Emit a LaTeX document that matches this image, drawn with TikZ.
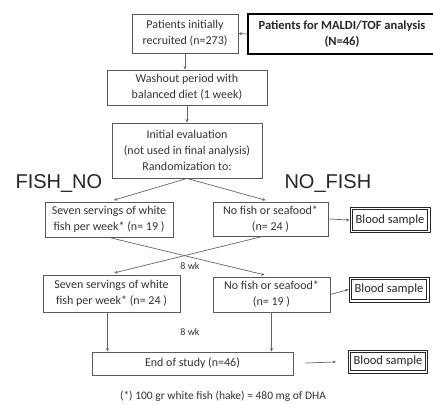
\documentclass[tikz,border=0pt]{standalone}
\usepackage{fontspec}
\setmainfont{Carlito}
\newfontfamily\headfont{Liberation Sans}
\usetikzlibrary{arrows.meta}
\begin{document}
\begin{tikzpicture}[x=1pt,y=-1pt,
  box/.style={draw=black!65,line width=0.9pt,align=center,inner sep=0pt,font=\fontsize{12}{16}\selectfont,text=black!80},
  bbox/.style={draw=black!85,line width=0.8pt,align=center,inner sep=0pt,font=\fontsize{12.5}{15}\selectfont,text=black!85,
    path picture={\draw[black!85,line width=0.8pt] ([shift={(2.2pt,2.2pt)}]path picture bounding box.south west) rectangle ([shift={(-2.2pt,-2.2pt)}]path picture bounding box.north east);}},
  mbox/.style={draw=black,line width=1.2pt,align=center,inner sep=0pt,font=\bfseries\fontsize{12.5}{16}\selectfont,text=black!85},
  arr/.style={draw=black!60,line width=0.7pt,-{Stealth[length=3.5pt,width=3pt]}},
  lbl/.style={font=\fontsize{10}{12}\selectfont,text=black!80},
  head/.style={font=\headfont\fontsize{20}{22}\selectfont,text=black!85}]
\useasboundingbox (0,0) rectangle (433,404);
\node[box,minimum width=106pt,minimum height=39pt] (rec) at (185,33.5) {Patients initially\\recruited (n=273)};
\node[mbox,minimum width=188pt,minimum height=40pt] (mal) at (342,34) {Patients for MALDI/TOF analysis\\(N=46)};
\node[box,minimum width=160pt,minimum height=35pt] (wash) at (187,87.5) {Washout period with\\balanced diet (1 week)};
\node[box,minimum width=150pt,minimum height=55pt] (init) at (187,150.5) {Initial evaluation\\(not used in final analysis)\\Randomization to:};
\node[head,anchor=west] (fn) at (12,184) {FISH\_NO};
\node[head,anchor=west] (nf) at (281,184) {NO\_FISH};
\node[box,minimum width=128pt,minimum height=35pt] (s1) at (109,219.5) {Seven servings of white\\fish per week* (n= 19 )};
\node[box,minimum width=115pt,minimum height=34pt] (n1) at (270.5,219) {No fish or seafood*\\(n= 24 )};
\node[bbox,minimum width=80pt,minimum height=25pt] (b1) at (390,220) {Blood sample};
\node[box,minimum width=137pt,minimum height=37pt] (s2) at (111.5,293.5) {Seven servings of white\\fish per week* (n= 24 )};
\node[box,minimum width=117pt,minimum height=35pt] (n2) at (271.5,294.5) {No fish or seafood*\\(n= 19 )};
\node[bbox,minimum width=80pt,minimum height=25pt] (b2) at (389,289.5) {Blood sample};
\node[box,minimum width=201pt,minimum height=23pt] (end) at (192.5,363.5) {End of study (n=46)};
\node[bbox,minimum width=79pt,minimum height=23pt] (b3) at (388,361.5) {Blood sample};
\node[lbl] (w1) at (190,266) {8 wk};
\node[lbl] (w2) at (190,332) {8 wk};
\node[lbl,font=\fontsize{11.5}{13}\selectfont] (foot) at (223,396) {(*) 100 gr white fish (hake) = 480 mg of DHA};
\draw[arr] (mal.west) -- (rec.east);
\draw[arr] (rec.south) -- (rec.south |- wash.north);
\draw[arr] (wash.south) -- (init.north);
\draw[arr,shorten >=5pt] (init.south) -- (s1.north);
\draw[arr,shorten >=5pt] (init.south) -- (n1.north);
\draw[arr] (n1.east) -- (b1.west);
\draw[arr,shorten >=7pt] (s1.south) -- (n2.north);
\draw[arr,shorten >=7pt] ([xshift=-8pt]n1.south) -- ([xshift=-4pt]s2.north);
\draw[arr] (n2.east) -- (b2.west);
\draw[arr] ([xshift=-4pt]s2.south) -- ([xshift=-4pt]s2.south |- end.north);
\draw[arr] (n2.south) -- (n2.south |- end.north);
\draw[arr,shorten <=12pt,shorten >=12pt] (end.east) -- (b3.west);
\end{tikzpicture}
\end{document}
